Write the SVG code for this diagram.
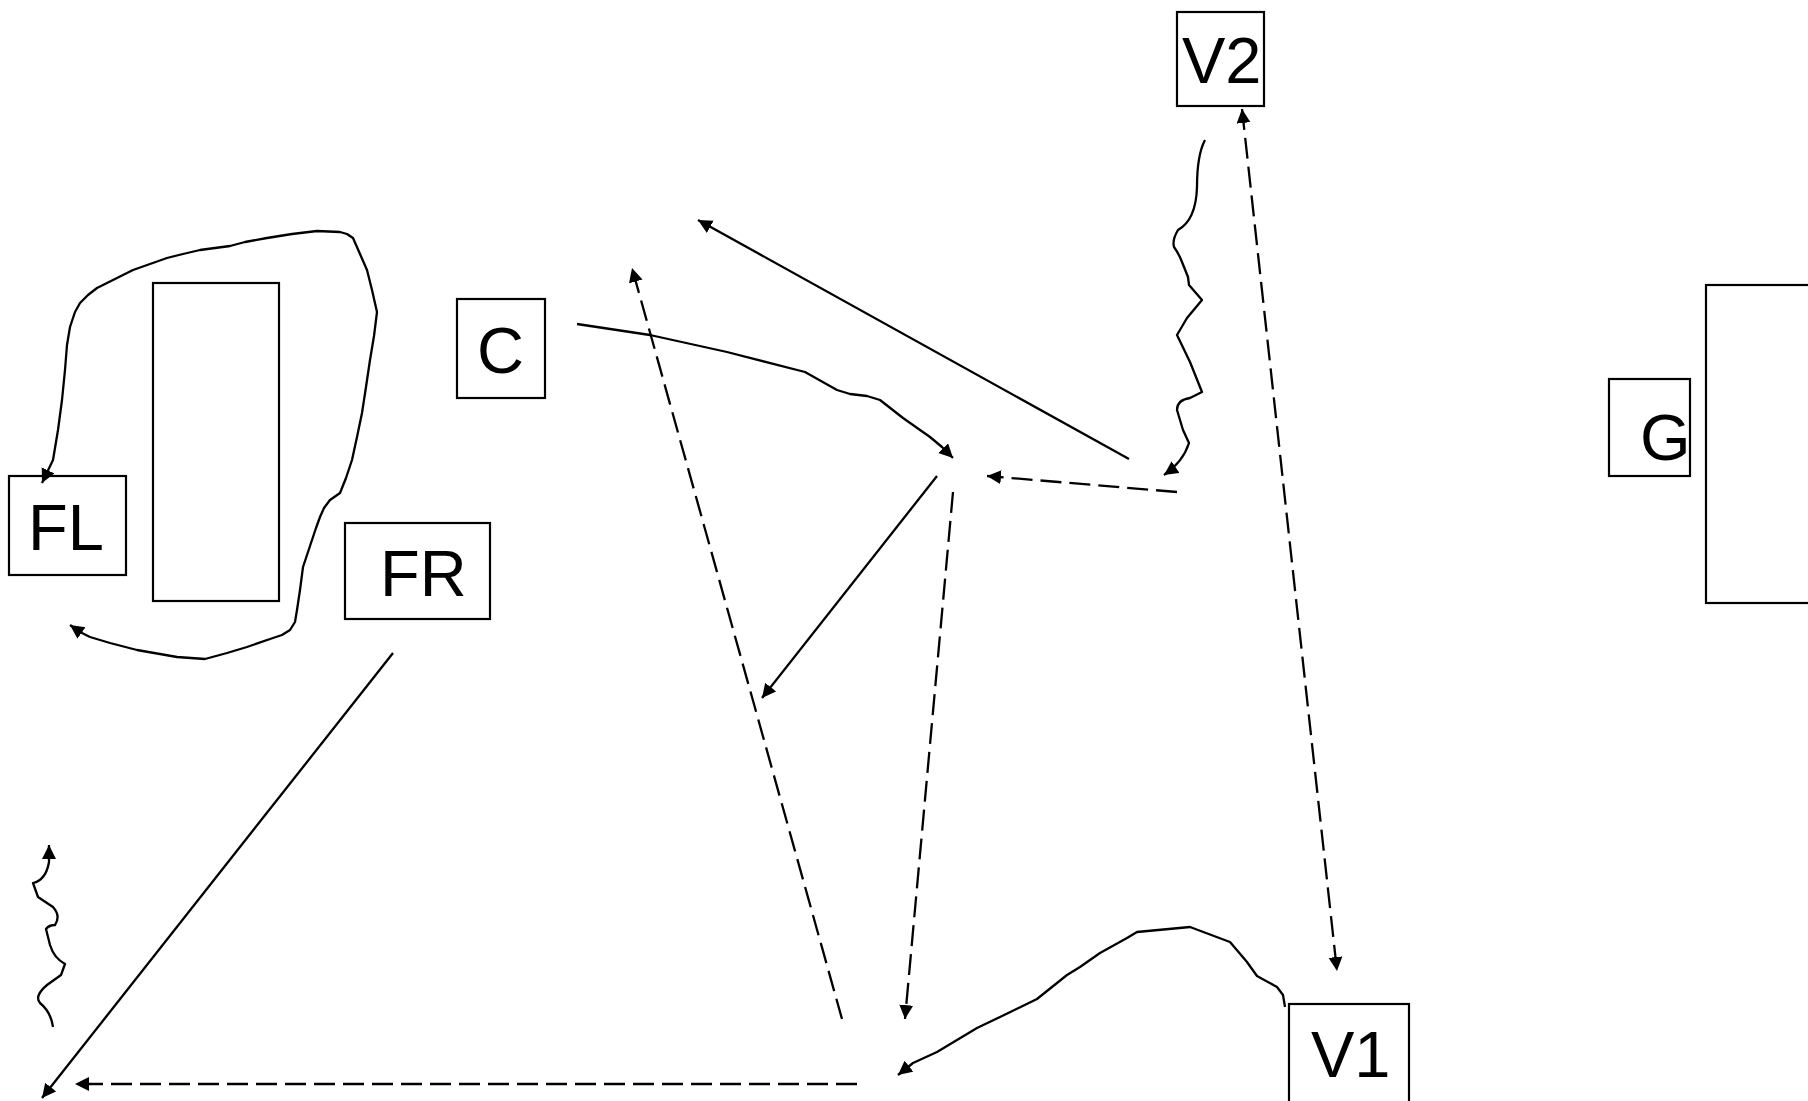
<svg xmlns="http://www.w3.org/2000/svg" width="1808" height="1101" viewBox="0 0 1808 1101">
<style>
.box{fill:none;stroke:#000;stroke-width:2.2}
.lbl{font-family:"Liberation Sans",Arial,sans-serif;font-size:65px;fill:#000}
.c{fill:none;stroke:#000;stroke-width:2.3;stroke-linejoin:round;stroke-linecap:butt}
.d{stroke-dasharray:21 8}
</style>
<defs>
<marker id="ah" markerUnits="userSpaceOnUse" markerWidth="16" markerHeight="16" refX="14" refY="7" orient="auto-start-reverse">
<path d="M0,0 L14,7 L0,14 z" fill="#000"/>
</marker>
</defs>
<rect width="1808" height="1101" fill="#fff"/>
<g id="node-FL"><rect class="box" x="9" y="476" width="117" height="99"/><text class="lbl" x="28" y="550">FL</text></g>
<g id="node-rect-left"><rect class="box" x="153" y="283" width="126" height="318"/></g>
<g id="node-FR"><rect class="box" x="345" y="523" width="145" height="96"/><text class="lbl" x="380" y="596">FR</text></g>
<g id="node-C"><rect class="box" x="457" y="299" width="88" height="99"/><text class="lbl" x="477" y="373">C</text></g>
<g id="node-V2"><rect class="box" x="1177" y="12" width="87" height="94"/><text class="lbl" x="1182" y="83">V2</text></g>
<g id="node-G"><rect class="box" x="1609" y="379" width="81" height="97"/><text class="lbl" x="1640" y="460">G</text></g>
<g id="node-rect-right"><rect class="box" x="1706" y="285" width="200" height="318"/></g>
<g id="node-V1"><rect class="box" x="1289" y="1004" width="120" height="200"/><text class="lbl" x="1311" y="1077">V1</text></g>
<g id="connectors">
<polyline class="c" marker-start="url(#ah)" marker-end="url(#ah)" points="42,483 53,460 58,430 62,400 65,370 67,345 70,327 75,312 80,303 88,295 97,288 115,279 133,270 150,264 167,258 183,254 200,250 230,246 245,242 267,238 292,234 317,231 340,232 347,234 353,238 360,254 367,270 372,290 377,312 374,336 370,360 366,387 362,413 357,437 352,460 346,478 340,493 330,500 324,508 320,517 316,528 312,540 306,558 303,567 300,590 297,610 295,622 290,630 282,635 273,638 247,647 227,653 205,659 177,657 137,650 110,643 90,637 80,632 70,625"/>
<path class="c" marker-end="url(#ah)" d="M1205,140 Q1197,155 1197,187 Q1196,220 1178,230 Q1172,240 1174,247 Q1179,254 1182,262 L1188,277 L1189,285 L1202,300 L1187,318 L1177,335 L1190,362 L1202,392 L1190,398 Q1177,400 1177,410 L1183,430 L1189,443 Q1183,462 1164,475"/>
<polyline class="c" marker-end="url(#ah)" points="577,324 650,335 727,352 805,372 837,390 850,394 867,396 880,400 903,418 930,437 942,447 953,458"/>
<line class="c" x1="1129" y1="459" x2="698" y2="220" marker-end="url(#ah)"/>
<line class="c d" x1="1177" y1="492" x2="987" y2="476" marker-end="url(#ah)"/>
<line class="c d" x1="1242" y1="109" x2="1337" y2="971" marker-start="url(#ah)" marker-end="url(#ah)"/>
<line class="c" x1="937" y1="476" x2="762" y2="698" marker-end="url(#ah)"/>
<line class="c d" x1="953" y1="492" x2="905" y2="1019" marker-end="url(#ah)"/>
<line class="c d" x1="842" y1="1019" x2="632" y2="268" marker-end="url(#ah)"/>
<line class="c d" x1="857" y1="1084" x2="75" y2="1084" marker-end="url(#ah)"/>
<line class="c" x1="393" y1="653" x2="42" y2="1098" marker-end="url(#ah)"/>
<path class="c" marker-end="url(#ah)" d="M53,1027 Q51,1012 40,1003 Q34,996 47,985 L61,975 L65,964 Q54,958 50,945 L46,929 Q49,925 55,925 Q61,916 53,907 L38,897 L33,883 Q46,880 49,862 L49,845"/>
<polyline class="c" marker-end="url(#ah)" points="1285,1007 1283,995 1277,987 1257,976 1247,962 1230,942 1190,927 1137,932 1127,938 1100,953 1080,967 1067,975 1037,999 1000,1017 977,1028 937,1052 913,1063 898,1075"/>
</g>
</svg>
